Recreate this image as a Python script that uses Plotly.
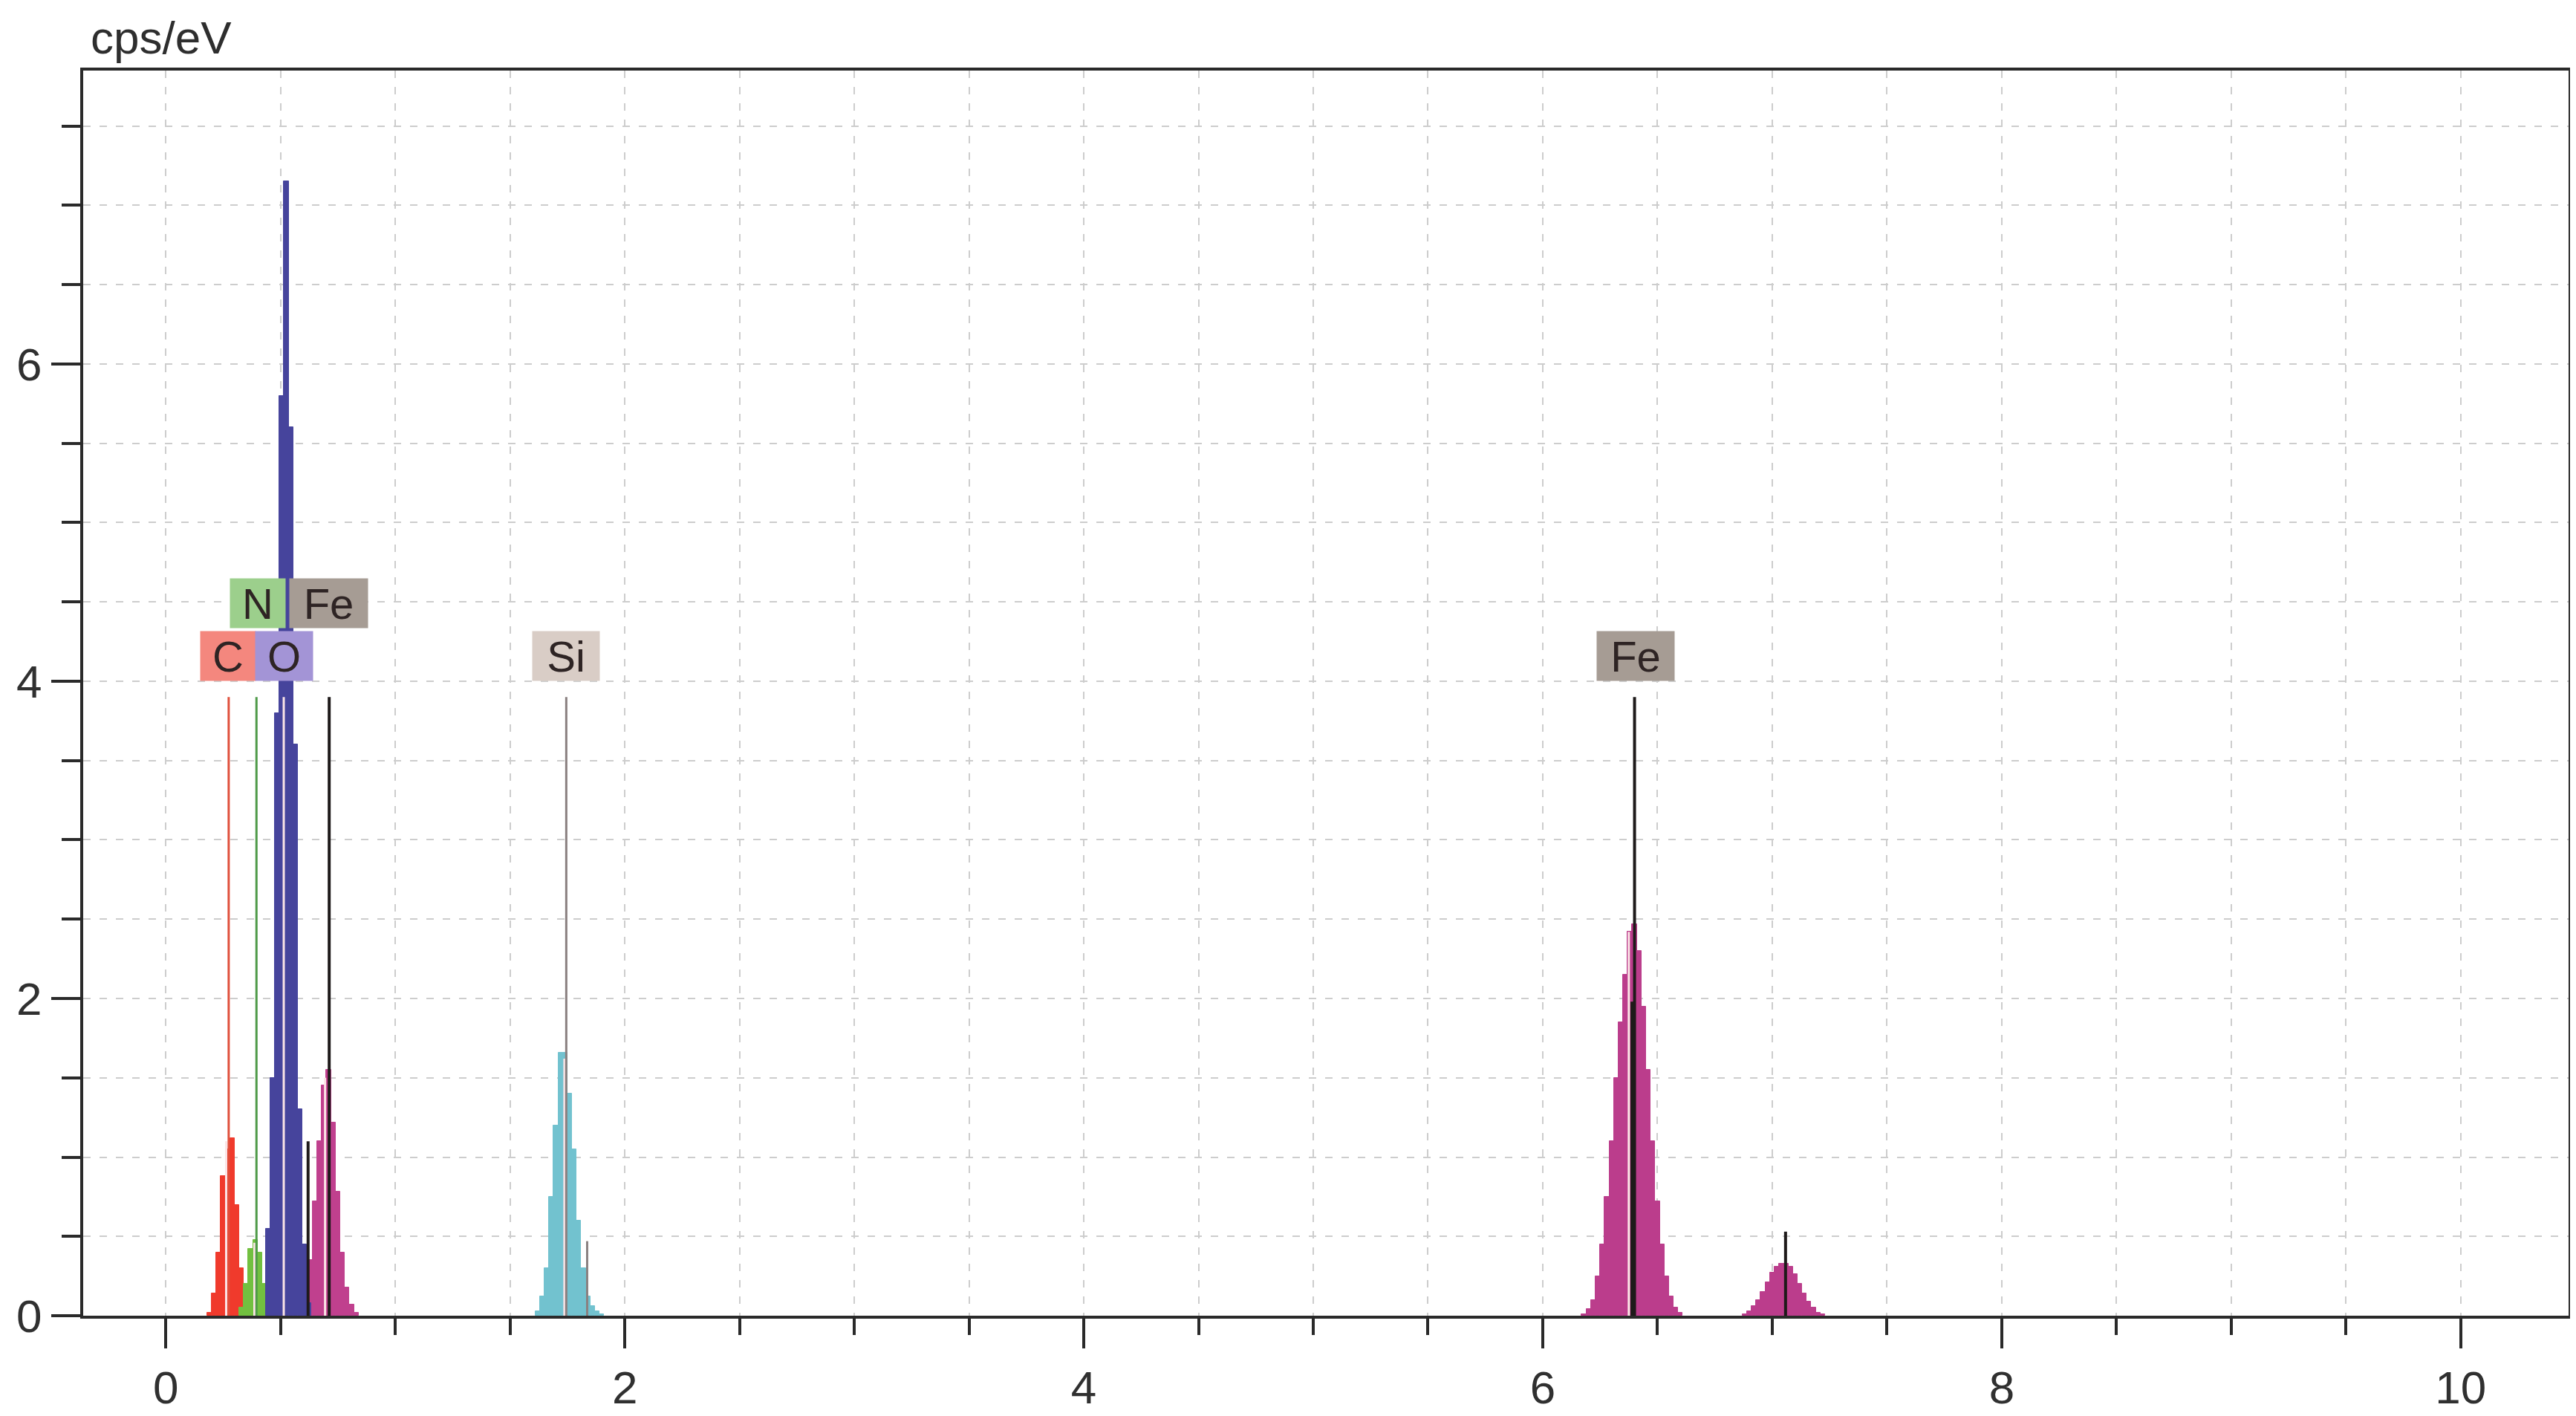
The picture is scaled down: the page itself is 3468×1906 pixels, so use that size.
import plotly.graph_objects as go

# channel width of the spectrum (keV)
STEP = 0.02

# spectrum peaks: first channel energy (keV) and counts per channel (cps/eV)
c_start = 0.19
c_counts = [0.02, 0.14, 0.40, 0.88, 1.05, 1.12, 0.70, 0.30, 0.09, 0.03]

n_start = 0.33
n_counts = [0.05, 0.20, 0.42, 0.48, 0.40, 0.20, 0.06, 0.01]

o_start = 0.445
o_counts = [0.55, 1.50, 3.80, 5.80, 7.15, 5.60, 3.60, 1.30, 0.45, 0.08]

fel_start = 0.59
fel_counts = [0.03, 0.12, 0.35, 0.72, 1.10, 1.45, 1.55, 1.22, 0.78, 0.40, 0.18, 0.07, 0.02]

si_start = 1.62
si_counts = [0.03, 0.12, 0.30, 0.75, 1.20, 1.66, 1.66, 1.40, 1.05, 0.60, 0.30, 0.12, 0.06, 0.03, 0.01]

feka_start = 6.18
feka_counts = [0.01, 0.04, 0.10, 0.25, 0.45, 0.75, 1.10, 1.50, 1.85, 2.15, 2.42, 2.47, 2.30,
               1.95, 1.55, 1.10, 0.72, 0.45, 0.25, 0.12, 0.05, 0.02]

fekb_start = 6.88
fekb_counts = [0.01, 0.03, 0.06, 0.10, 0.15, 0.21, 0.27, 0.31, 0.33, 0.33, 0.31, 0.26, 0.20,
               0.14, 0.09, 0.05, 0.02, 0.01]

# element marker lines
line_energy = [0.274, 0.395, 0.525, 0.712, 0.620, 1.745, 1.836, 6.400, 6.392, 7.058]
line_height = [3.9, 3.9, 3.9, 3.9, 1.10, 3.9, 0.47, 3.9, 1.98, 0.53]
line_color = ['#e0503c', '#4e9a48', '#46449c', '#1e1a1a', '#1e1a1a', '#8a8080', '#8a8080',
              '#1e1a1a', '#1e1a1a', '#1e1a1a']
line_width = [3, 3, 3, 4, 4, 3, 3, 4, 6, 4]

# light streaks inside the peaks
streak_energy = [0.263, 0.386, 0.514, 0.694, 1.737, 6.375]
streak_height = [1.10, 0.46, 3.9, 1.50, 1.62, 2.42]

# element labels
label_text = ['C', 'O', 'N', 'Fe', 'Si', 'Fe']
label_x = [0.27, 0.515, 0.40, 0.71, 1.745, 6.405]
label_y = [4.16, 4.16, 4.49, 4.49, 4.16, 4.16]
label_bg = ['#f4877e', '#a394d6', '#9ccf8c', '#a69c94', '#d9cdc6', '#a69c94']
label_w = [74, 77, 74, 105, 90, 104]

FONT = 'Liberation Sans, Arial, sans-serif'

fig = go.Figure()


def add_peak(start, counts, color):
    xs = [start + i * STEP for i in range(len(counts))]
    fig.add_trace(go.Bar(x=xs, y=counts, width=STEP,
                         marker=dict(color=color, line=dict(width=1, color=color)),
                         hoverinfo='skip'))


add_peak(c_start, c_counts, '#f03a2c')
add_peak(n_start, n_counts, '#72c040')
add_peak(fel_start, fel_counts, '#c0408e')
add_peak(o_start, o_counts, '#46449c')
add_peak(si_start, si_counts, '#72c2cf')
add_peak(feka_start, feka_counts, '#bb3d8c')
add_peak(fekb_start, fekb_counts, '#bb3d8c')

for e, h in zip(streak_energy, streak_height):
    fig.add_trace(go.Scatter(x=[e, e], y=[0, h], mode='lines',
                             line=dict(color='#fbe4e6', width=3), hoverinfo='skip'))

for e, h, c, w in zip(line_energy, line_height, line_color, line_width):
    fig.add_trace(go.Scatter(x=[e, e], y=[0, h], mode='lines',
                             line=dict(color=c, width=w), hoverinfo='skip'))

for t, x, y, bg, w in zip(label_text, label_x, label_y, label_bg, label_w):
    fig.add_annotation(x=x, y=y, xref='x', yref='y', text=t, showarrow=False,
                       width=w, height=66, bgcolor=bg, borderpad=0,
                       font=dict(family=FONT, size=58, color='#2e2424'))

fig.add_annotation(x=0, y=1, xref='paper', yref='paper', text='cps/eV', showarrow=False,
                   xanchor='left', yanchor='bottom', xshift=8, yshift=8,
                   font=dict(family=FONT, size=62, color='#2e2e2e'))

grid = dict(showgrid=True, gridcolor='#cdcdcd', gridwidth=2, griddash='10px,12px')

fig.update_layout(
    width=3468, height=1906,
    margin=dict(l=104, r=18, t=87, b=118),
    plot_bgcolor='white', paper_bgcolor='white',
    showlegend=False, barmode='overlay', bargap=0,
    font=dict(family=FONT, size=62, color='#303030'),
    xaxis=dict(range=[-0.36, 10.47], tick0=0, dtick=2, ticks='outside', ticklen=40,
               tickwidth=4, tickcolor='#2a2a2a', showline=True, mirror=True,
               linewidth=4, linecolor='#2a2a2a', zeroline=False,
               minor=dict(dtick=0.5, tick0=0, ticks='outside', ticklen=22, tickwidth=4,
                          tickcolor='#2a2a2a', **grid),
               **grid),
    yaxis=dict(range=[0, 7.85], tick0=0, dtick=2, ticks='outside', ticklen=39,
               tickwidth=4, tickcolor='#2a2a2a', showline=True, mirror=True,
               linewidth=4, linecolor='#2a2a2a', zeroline=False,
               minor=dict(dtick=0.5, tick0=0, ticks='outside', ticklen=25, tickwidth=4,
                          tickcolor='#2a2a2a', **grid),
               **grid),
)

fig.write_html('out.html')
